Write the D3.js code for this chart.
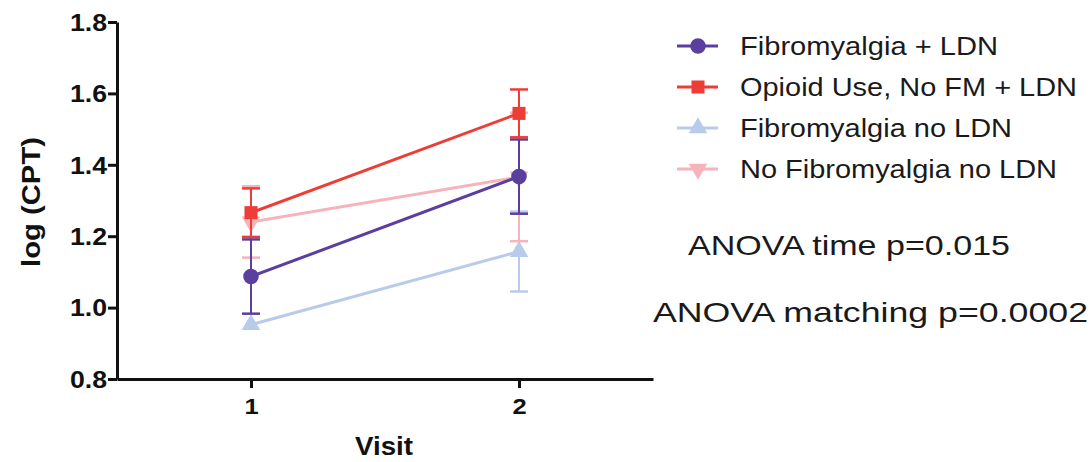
<!DOCTYPE html>
<html lang="en">
<head>
<meta charset="UTF-8">
<title>log (CPT) by visit</title>
<script src="https://cdn.jsdelivr.net/npm/d3@7"></script>
<style>
    body { margin: 0; background: #fff; }
    svg { display: block; font-family: Arial, "Liberation Sans", sans-serif; }
</style>
</head>
<body>
<div id="chart"></div>
<script>
    // data (mean and error per visit)
    const visits = [1, 2];
    const groups = ["Fibromyalgia + LDN", "Opioid Use, No FM + LDN", "Fibromyalgia no LDN", "No Fibromyalgia no LDN"];
    const colors = ["#5b3f9f", "#ee3d36", "#b9cbea", "#f6b3b9"];
    const symbols = ["circle", "square", "triangle", "triangleDown"];
    const means = [[1.087, 1.367], [1.266, 1.544], [0.952, 1.157], [1.240, 1.366]];
    const errs = [[0.104, 0.104], [0.068, 0.067], [0.0, 0.112], [0.10, 0.18]];
    const yTicks = [0.8, 1.0, 1.2, 1.4, 1.6, 1.8];
    const notes = ["ANOVA time p=0.015", "ANOVA matching p=0.0002"];

    const width = 1090, height = 462;
    const svg = d3.select("#chart").append("svg")
        .attr("width", width).attr("height", height);

    const x = d3.scaleLinear().domain([0.5, 2.5]).range([117, 653]);
    const y = d3.scaleLinear().domain([0.8, 1.8]).range([379, 22]);

    // the source picture is stretched sideways, so text gets a wider shape
    const stretch = 1.16;

    // axes
    const yAxis = svg.append("g").attr("transform", "translate(117,0)")
        .call(d3.axisLeft(y).tickValues(yTicks).tickFormat(d3.format(".1f")).tickSize(9).tickSizeOuter(0));
    const xAxis = svg.append("g").attr("transform", "translate(0,379)")
        .call(d3.axisBottom(x).tickValues(visits).tickFormat(d3.format("d")).tickSize(9).tickSizeOuter(0));
    [yAxis, xAxis].forEach(a => {
        a.select(".domain").attr("stroke", "#111").attr("stroke-width", 3);
        a.selectAll(".tick line").attr("stroke", "#111").attr("stroke-width", 3);
        a.selectAll("text").attr("fill", "#111").style("font-weight", "bold")
            .style("font-family", "Arial, 'Liberation Sans', sans-serif");
    });
    yAxis.selectAll("text").style("font-size", "23px")
        .attr("x", null).attr("dy", "0.36em")
        .attr("transform", `translate(-10,0) scale(${stretch},1)`);
    xAxis.selectAll("text").style("font-size", "22px")
        .attr("y", null).attr("dy", "0.71em")
        .attr("transform", `translate(0,19) scale(${stretch},1)`);

    svg.append("text").attr("x", 355).attr("y", 455)
        .style("font-size", "25px").style("font-weight", "bold")
        .attr("textLength", 58).attr("lengthAdjust", "spacingAndGlyphs")
        .attr("fill", "#111").text("Visit");
    svg.append("text").attr("transform", "translate(40,202) rotate(-90)")
        .attr("text-anchor", "middle").style("font-size", "26px").style("font-weight", "bold")
        .attr("textLength", 130).attr("lengthAdjust", "spacingAndGlyphs")
        .attr("fill", "#111").text("log (CPT)");

    const symType = {
        circle: d3.symbolCircle, square: d3.symbolSquare,
        triangle: d3.symbolTriangle, triangleDown: d3.symbolTriangle
    };
    const symSize = { circle: 190, square: 170, triangle: 150, triangleDown: 150 };
    function marker(g, s, color, cx, cy) {
        g.append("path")
            .attr("d", d3.symbol().type(symType[s]).size(symSize[s])())
            .attr("transform", `translate(${cx},${cy})` + (s === "triangleDown" ? " rotate(180)" : ""))
            .attr("fill", color);
    }

    // draw back to front: light series first
    const order = [2, 3, 0, 1];
    order.forEach(i => {
        const g = svg.append("g");
        const c = colors[i];
        // error bars
        visits.forEach((v, j) => {
            const e = errs[i][j];
            if (e <= 0) return;
            const cx = x(v);
            const y1 = y(means[i][j] + e), y2 = y(means[i][j] - e);
            g.append("line").attr("x1", cx).attr("x2", cx).attr("y1", y1).attr("y2", y2)
                .attr("stroke", c).attr("stroke-width", 2);
            [y1, y2].forEach(yy => g.append("line")
                .attr("x1", cx - 9).attr("x2", cx + 9).attr("y1", yy).attr("y2", yy)
                .attr("stroke", c).attr("stroke-width", 2.5));
        });
        // line
        g.append("path")
            .datum(visits.map((v, j) => [v, means[i][j]]))
            .attr("d", d3.line().x(d => x(d[0])).y(d => y(d[1])))
            .attr("fill", "none").attr("stroke", c).attr("stroke-width", 3);
        visits.forEach((v, j) => marker(g, symbols[i], c, x(v), y(means[i][j])));
    });

    // legend (text widths)
    const legendWidths = [258, 337, 272, 317];
    const leg = svg.append("g");
    groups.forEach((name, i) => {
        const yy = 46 + i * 41;
        leg.append("line").attr("x1", 677).attr("x2", 718).attr("y1", yy).attr("y2", yy)
            .attr("stroke", colors[i]).attr("stroke-width", 3);
        marker(leg, symbols[i], colors[i], 698, yy);
        leg.append("text").attr("x", 740).attr("y", yy + 9)
            .style("font-size", "25.5px").attr("fill", "#1a1a1a")
            .attr("textLength", legendWidths[i]).attr("lengthAdjust", "spacingAndGlyphs")
            .text(name);
    });

    // annotations
    svg.append("text").attr("x", 688).attr("y", 255).style("font-size", "28px")
        .attr("textLength", 322).attr("lengthAdjust", "spacingAndGlyphs")
        .attr("fill", "#1a1a1a").text(notes[0]);
    svg.append("text").attr("x", 653).attr("y", 322).style("font-size", "28px")
        .attr("textLength", 435).attr("lengthAdjust", "spacingAndGlyphs")
        .attr("fill", "#1a1a1a").text(notes[1]);
</script>
</body>
</html>
